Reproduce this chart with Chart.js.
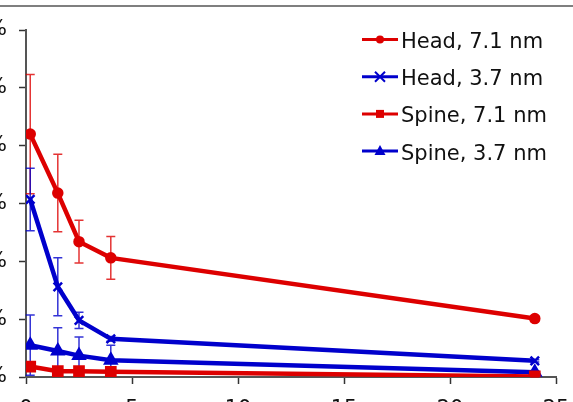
<!DOCTYPE html>
<html>
<head>
<meta charset="utf-8">
<script src="https://cdn.jsdelivr.net/npm/chart.js@4/dist/chart.umd.min.js"></script>
<style>
  html, body { margin: 0; padding: 0; background: #fff; overflow: hidden; }
  canvas { display: block; }
</style>
</head>
<body>
<canvas id="chart" width="573" height="402"></canvas>
<script>
// time points (hours) and the four series, values in %
const timePoints = [0.2, 1.5, 2.5, 4, 24];
const headLarge = [42.0, 31.8, 23.4, 20.6, 10.1];
const headLargeErr = [10.3, 6.7, 3.7, 3.7, 0.5];
const headSmall = [30.7, 15.6, 9.8, 6.6, 2.8];
const headSmallErr = [5.4, 5.0, 1.4, 0.4, 0.2];
const spineLarge = [1.8, 1.0, 1.0, 0.9, 0.1];
const spineLargeErr = [0.6, 0.3, 0.3, 0.3, 0.1];
const spineSmall = [5.5, 4.5, 3.7, 2.9, 0.8];
const spineSmallErr = [5.2, 4.0, 3.2, 2.6, 0.3];
const seriesLabels = ['Head, 7.1 nm', 'Head, 3.7 nm', 'Spine, 7.1 nm', 'Spine, 3.7 nm'];
const xTickValues = [0, 5, 10, 15, 20, 25];
const yTickValues = [0, 10, 20, 30, 40, 50, 60];

const RED = '#dd0000';
const BLUE = '#0000cc';
const FONT = 'DejaVu Sans, Verdana, sans-serif';

function toPoints(ys) {
    return timePoints.map((x, i) => ({ x: x, y: ys[i] }));
}

function makeSet(label, ys, errs, color, style, radius) {
    return {
        label: label,
        data: toPoints(ys),
        errors: errs,
        showLine: true,
        borderColor: color,
        backgroundColor: color,
        borderWidth: 4.5,
        pointStyle: style,
        pointRadius: radius,
        pointHoverRadius: radius,
        pointBorderWidth: 2.5,
        pointBorderColor: color,
        pointBackgroundColor: color,
        tension: 0
    };
}

const datasets = [
    makeSet(seriesLabels[0], headLarge, headLargeErr, RED, 'circle', 4.5),
    makeSet(seriesLabels[1], headSmall, headSmallErr, BLUE, 'crossRot', 6),
    makeSet(seriesLabels[2], spineLarge, spineLargeErr, RED, 'rect', 6.5),
    makeSet(seriesLabels[3], spineSmall, spineSmallErr, BLUE, 'triangle', 6.5)
];

// error bars drawn under the lines
const errorBars = {
    id: 'errorBars',
    beforeDatasetsDraw(chart) {
        const ctx = chart.ctx;
        const xs = chart.scales.x, ys = chart.scales.y;
        ctx.save();
        chart.data.datasets.forEach((ds) => {
            ctx.strokeStyle = ds.borderColor;
            ctx.globalAlpha = 0.8;
            ctx.lineWidth = 1.5;
            ds.data.forEach((p, i) => {
                const e = ds.errors[i];
                const px = xs.getPixelForValue(p.x);
                const top = ys.getPixelForValue(p.y + e);
                const bot = ys.getPixelForValue(Math.max(p.y - e, 0));
                ctx.beginPath();
                ctx.moveTo(px, top); ctx.lineTo(px, bot);
                ctx.moveTo(px - 4.5, top); ctx.lineTo(px + 4.5, top);
                ctx.moveTo(px - 4.5, bot); ctx.lineTo(px + 4.5, bot);
                ctx.stroke();
            });
        });
        ctx.restore();
    }
};

function marker(ctx, style, x, y, color) {
    ctx.fillStyle = color;
    ctx.strokeStyle = color;
    ctx.lineWidth = 2;
    ctx.beginPath();
    if (style === 'circle') {
        ctx.arc(x, y, 4, 0, Math.PI * 2);
        ctx.fill();
    } else if (style === 'crossRot') {
        ctx.moveTo(x - 5, y - 5); ctx.lineTo(x + 5, y + 5);
        ctx.moveTo(x + 5, y - 5); ctx.lineTo(x - 5, y + 5);
        ctx.stroke();
    } else if (style === 'rect') {
        ctx.fillRect(x - 4, y - 4, 8, 8);
    } else if (style === 'triangle') {
        ctx.moveTo(x, y - 6); ctx.lineTo(x + 5.5, y + 4); ctx.lineTo(x - 5.5, y + 4);
        ctx.closePath();
        ctx.fill();
    }
}

// legend in the top right, plus the frame line across the top
const sideLegend = {
    id: 'sideLegend',
    afterDraw(chart) {
        const ctx = chart.ctx;
        ctx.save();
        ctx.strokeStyle = '#555';
        ctx.lineWidth = 1.5;
        ctx.beginPath();
        ctx.moveTo(0, 6); ctx.lineTo(chart.width, 6);
        ctx.stroke();

        ctx.font = '21px ' + FONT;
        ctx.textBaseline = 'alphabetic';
        chart.data.datasets.forEach((ds, i) => {
            const y = 39.5 + i * 37.2;
            ctx.strokeStyle = ds.borderColor;
            ctx.lineWidth = 3;
            ctx.beginPath();
            ctx.moveTo(362, y); ctx.lineTo(398, y);
            ctx.stroke();
            marker(ctx, ds.pointStyle, 380, y, ds.borderColor);
            ctx.fillStyle = '#111';
            ctx.fillText(ds.label, 401, y + 8.5);
        });
        ctx.restore();
    }
};

new Chart(document.getElementById('chart').getContext('2d'), {
    type: 'scatter',
    data: { datasets: datasets },
    options: {
        responsive: false,
        animation: false,
        layout: { padding: { top: 30, right: 17, left: 0, bottom: 0 } },
        plugins: { legend: { display: false }, tooltip: { enabled: false } },
        scales: {
            x: {
                type: 'linear',
                min: 0,
                max: 25,
                afterBuildTicks: (s) => { s.ticks = xTickValues.map(v => ({ value: v })); },
                afterFit: (s) => { s.height = 25; s.paddingLeft = 0; s.paddingRight = 0; },
                border: { display: true, color: '#555', width: 2 },
                grid: { display: true, drawOnChartArea: false, drawTicks: true, tickLength: 7, tickColor: '#333', tickWidth: 1.5 },
                ticks: { color: '#111', font: { family: FONT, size: 21 }, padding: 13, maxRotation: 0 }
            },
            y: {
                type: 'linear',
                min: 0,
                max: 60,
                afterBuildTicks: (s) => { s.ticks = yTickValues.map(v => ({ value: v })); },
                afterFit: (s) => { s.width = 26; s.paddingTop = 0; s.paddingBottom = 0; },
                border: { display: true, color: '#555', width: 2 },
                grid: { display: true, drawOnChartArea: false, drawTicks: true, tickLength: 7, tickColor: '#333', tickWidth: 1.5 },
                ticks: { color: '#111', font: { family: FONT, size: 21 }, padding: 12, callback: (v) => v + '%' }
            }
        }
    },
    plugins: [errorBars, sideLegend]
});
</script>
</body>
</html>
